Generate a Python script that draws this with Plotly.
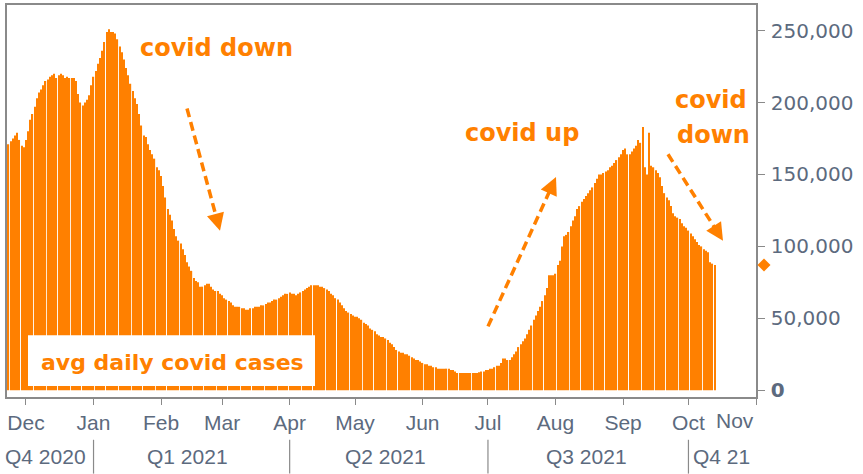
import math
import pandas as pd
import plotly.graph_objects as go

# ---- data (7-day average daily US covid cases, thousands) ----
start_date = "2020-11-23"
cases_k = [
    171, 173, 175, 177, 179, 174, 170, 169, 174,
    180, 188, 192, 197, 203, 207, 209, 212, 215, 216,
    218, 219, 220, 217, 219, 220, 219, 217, 218, 217,
    217, 217, 215, 206, 200, 198, 200, 202, 205, 212,
    218, 222, 227, 231, 236, 242, 249, 251, 249, 249,
    248, 244, 239, 235, 230, 224, 219, 213, 208, 203,
    199, 192, 184, 177, 176, 171, 167, 164, 161, 155,
    153, 149, 142, 134, 126, 122, 118, 112, 107, 104,
    102, 98, 94, 89, 86, 83, 78, 76, 75, 72,
    72, 73, 74, 74, 72, 70, 69, 69, 67, 66,
    64, 63, 62, 61, 59, 58, 58, 58, 57, 57,
    56, 56, 57, 57, 58, 58, 58, 59, 59, 60,
    61, 61, 62, 63, 63, 64, 65, 66, 67, 67,
    68, 67, 67, 66, 67, 68, 69, 70, 71, 72,
    73, 73, 73, 73, 72, 72, 71, 70, 69, 67,
    66, 64, 63, 61, 59, 57, 55, 54, 53, 52,
    51, 51, 50, 49, 47, 46, 45, 43, 42, 41,
    39, 38, 37, 37, 36, 35, 33, 32, 30, 28,
    27, 26, 26, 25, 25, 24, 23, 22, 21, 21,
    20, 19, 18, 18, 17, 17, 16, 16, 15, 15,
    15, 15, 15, 15, 14, 14, 13, 12, 12, 12,
    12, 12, 12, 12, 12, 12, 12, 12.5, 13, 13,
    14, 14, 15, 15, 16, 17, 17, 19, 22, 22,
    21, 21, 23, 25, 27, 30, 32, 34, 36, 39,
    42, 45, 49, 52, 55, 58, 62, 66, 71, 80,
    80, 80, 81, 87, 90, 100, 107, 108, 110, 114,
    118, 121, 126, 128, 131, 133, 135, 137, 139, 141,
    144, 147, 150, 150, 151, 152, 153, 155, 156, 158,
    160, 162, 164, 167, 168, 164, 164, 166, 168, 170,
    174, 172, 183, 155, 150, 179, 156, 155, 153, 151,
    148, 142, 137, 134, 132, 128, 123, 121, 120, 119,
    116, 114, 113, 111, 109, 107, 105, 103, 101, 100,
    98, 97, 96, 89, 88, 87,
]
month_ticks = ["2020-12-01", "2021-01-01", "2021-02-01", "2021-03-01", "2021-04-01",
               "2021-05-01", "2021-06-01", "2021-07-01", "2021-08-01", "2021-09-01",
               "2021-10-01", "2021-11-01"]
month_labels = ["Dec", "Jan", "Feb", "Mar", "Apr", "May", "Jun", "Jul", "Aug", "Sep", "Oct", "Nov"]
quarter_bounds = ["2021-01-01", "2021-04-01", "2021-07-01", "2021-10-01"]
quarter_centers = ["2020-12-10", "2021-02-13", "2021-05-15", "2021-08-15", "2021-10-16"]
quarter_labels = ["Q4 2020", "Q1 2021", "Q2 2021", "Q3 2021", "Q4 21"]
y_ticks = [0, 50000, 100000, 150000, 200000, 250000]
y_labels = ["<b>0</b>", "50,000", "100,000", "150,000", "200,000", "250,000"]

cases = [v * 1000 for v in cases_k]
dates = pd.date_range(start_date, periods=len(cases), freq="D")

ORANGE = "#FF8000"
AXIS = "#8a8a8a"
TXT = "#5c6a7e"

# figure geometry (pixels)
W, H = 863, 474
ML, MR, MT, MB = 7, 107, 3, 77
PW, PH = W - ML - MR, H - MT - MB


def P(xp, yp):
    """pixel position -> paper coordinates (for decorations only)"""
    return (xp - ML) / PW, (H - MB - yp) / PH


fig = go.Figure()
fig.add_trace(go.Bar(x=dates, y=cases, marker=dict(color=ORANGE, line=dict(width=0)),
                     hoverinfo="skip", showlegend=False))

shapes = []
annotations = []

# latest-value diamond just right of the value axis (y taken from the data)
shapes.append(dict(type="path", xref="paper", yref="y",
                   xsizemode="pixel", ysizemode="pixel",
                   xanchor=P(764, 0)[0], yanchor=cases[-1],
                   path="M0,6.5 L6.5,0 L0,-6.5 L-6.5,0 Z",
                   fillcolor=ORANGE, line=dict(width=0), layer="above"))

# quarter separators
for q in quarter_bounds:
    shapes.append(dict(type="line", xref="x", yref="paper", x0=q, x1=q,
                       y0=P(0, 440)[1], y1=P(0, 474)[1], line=dict(color=AXIS, width=1.2)))
for c, t in zip(quarter_centers, quarter_labels):
    annotations.append(dict(x=c, xref="x", y=P(0, 457)[1], yref="paper", text=t, showarrow=False,
                            font=dict(family="Liberation Sans", size=21, color=TXT),
                            xanchor="center", yanchor="middle"))
# Nov label kept inside the frame
annotations.append(dict(x=month_ticks[-1], xref="x", y=P(0, 421)[1], yref="paper", text="Nov",
                        showarrow=False, font=dict(family="Liberation Sans", size=21, color=TXT),
                        xanchor="right", yanchor="middle"))

# label box
x0, y0 = P(28, 335)
x1, y1 = P(315, 386)
shapes.append(dict(type="rect", xref="paper", yref="paper", x0=x0, x1=x1, y0=y1, y1=y0,
                   fillcolor="white", line=dict(width=0), layer="above"))
bx, by = P(172, 362)
annotations.append(dict(x=bx, y=by, xref="paper", yref="paper", text="avg daily covid cases",
                        showarrow=False, font=dict(family="DejaVu Sans", size=22, color=ORANGE, weight="bold"),
                        xanchor="center", yanchor="middle"))


def note(xp, yp, text):
    ax_, ay_ = P(xp, yp)
    annotations.append(dict(x=ax_, y=ay_, xref="paper", yref="paper", text=text, showarrow=False,
                            font=dict(family="DejaVu Sans", size=24, color=ORANGE, weight="bold"),
                            xanchor="center", yanchor="middle"))


note(216, 46, "covid down")
note(522, 132, "covid up")
note(711, 98, "covid")
note(713, 134, "down")


def arrow(xs, ys, xt, yt):
    dx, dy = xt - xs, yt - ys
    L = math.hypot(dx, dy)
    ux, uy = dx / L, dy / L
    head = 14
    ex, ey = xt - ux * (head - 2), yt - uy * (head - 2)
    a0 = P(xs, ys)
    a1 = P(ex, ey)
    shapes.append(dict(type="line", xref="paper", yref="paper", x0=a0[0], y0=a0[1], x1=a1[0], y1=a1[1],
                       line=dict(color=ORANGE, width=3.5, dash="9px,5px")))
    tp = P(xt, yt)
    annotations.append(dict(x=tp[0], y=tp[1], xref="paper", yref="paper", text="", showarrow=True,
                            axref="pixel", ayref="pixel", ax=-ux * head, ay=-uy * head,
                            arrowhead=2, arrowsize=1, arrowwidth=3.5, arrowcolor=ORANGE))


arrow(187, 107, 220, 230)
arrow(488, 326, 556, 176)
arrow(668, 153, 723, 240)

fig.update_layout(
    width=W, height=H,
    margin=dict(l=ML, r=MR, t=MT, b=MB),
    paper_bgcolor="white", plot_bgcolor="white",
    bargap=0.45,
    shapes=shapes, annotations=annotations,
    xaxis=dict(type="date", range=["2020-11-22 07:00", "2021-11-01"],
               tickvals=month_ticks, ticktext=month_labels[:-1] + [""],
               ticks="outside", ticklen=6, tickcolor=AXIS, tickwidth=1.2,
               showline=True, mirror=True, linecolor=AXIS, linewidth=1.5,
               showgrid=False, zeroline=False,
               tickfont=dict(family="Liberation Sans", size=21, color=TXT)),
    yaxis=dict(side="right", range=[-4700, 267800],
               tickvals=y_ticks, ticktext=y_labels,
               ticks="outside", ticklen=7, tickcolor=AXIS, tickwidth=1.2,
               showline=True, mirror=True, linecolor=AXIS, linewidth=1.5,
               showgrid=False, zeroline=False, ticklabelstandoff=2,
               tickfont=dict(family="DejaVu Sans", size=20, color=TXT)),
)

fig.write_html("out.html", config={"displayModeBar": False},
               post_script="document.body.style.margin='0';document.body.style.overflow='hidden';")
